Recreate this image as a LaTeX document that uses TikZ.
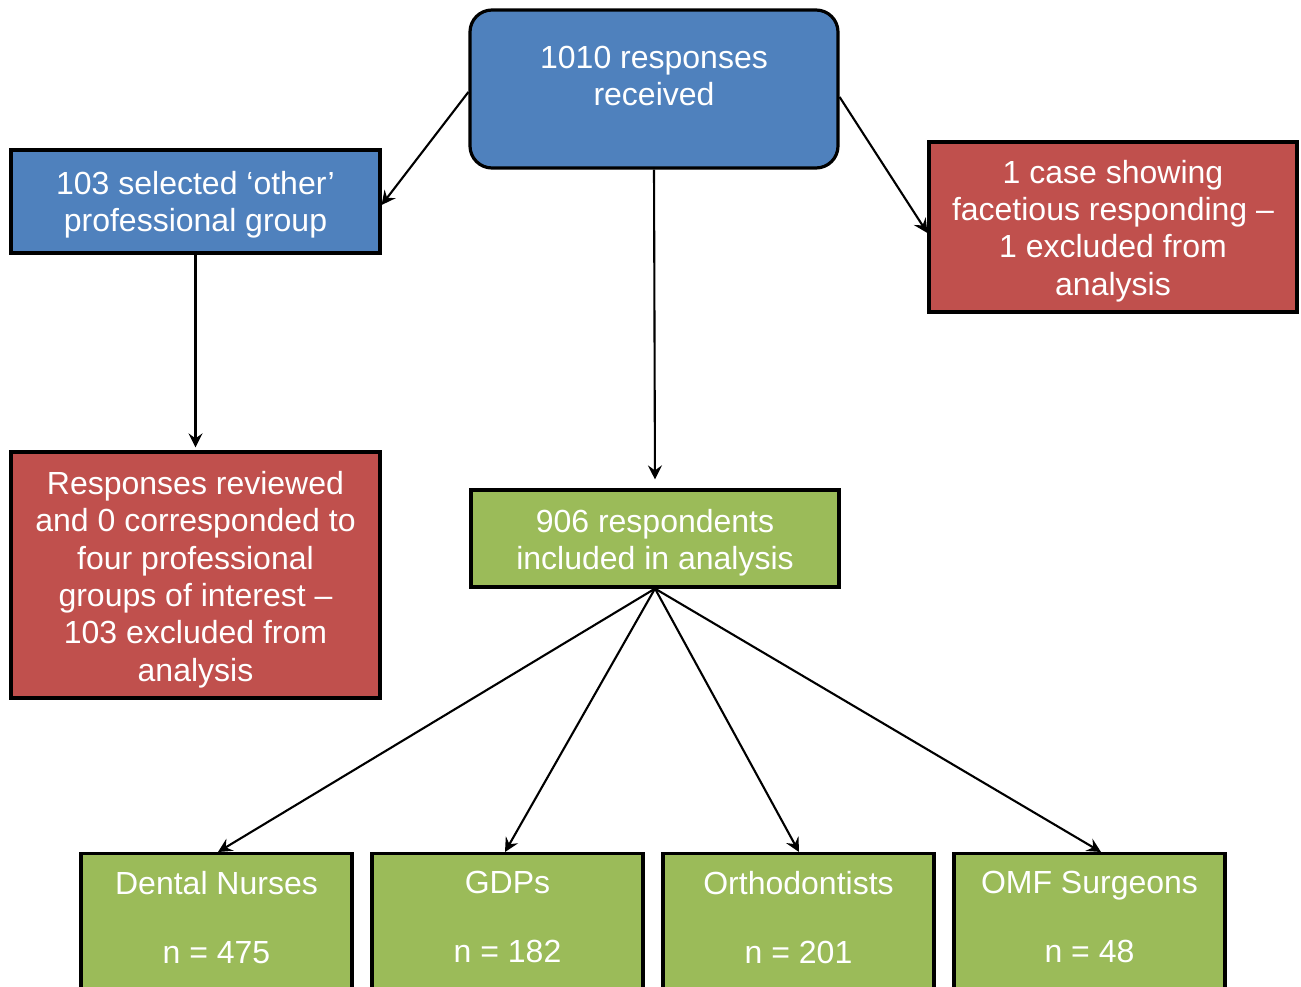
\documentclass[tikz,border=0pt]{standalone}
\usepackage{fontspec}
\setmainfont{Liberation Sans}
\usetikzlibrary{arrows.meta}
\definecolor{cblue}{HTML}{4F81BD}
\definecolor{cred}{HTML}{C0504D}
\definecolor{cgreen}{HTML}{9BBB59}
\begin{document}
\begin{tikzpicture}[x=1pt,y=-1pt,
  box/.style={draw=black,line width=3.2pt,inner sep=0pt},
  txt/.style={text=white,align=center,inner sep=0pt,font=\fontsize{32}{37.3}\selectfont},
  conn/.style={line width=2.1pt,-{Stealth[length=14pt,width=14pt,inset=5pt]}}]
\clip (0,0) rectangle (1301,987);
\fill[white] (0,0) rectangle (1301,987);
% boxes
\node[box,fill=cblue,rounded corners=22pt,minimum width=368,minimum height=158] (top) at (654,89) {};
\node[box,fill=cblue,minimum width=369,minimum height=103] (other) at (195.5,201.5) {};
\node[box,fill=cred,minimum width=368,minimum height=170] (face) at (1113,227) {};
\node[box,fill=cred,minimum width=369,minimum height=246] (rev) at (195.5,575) {};
\node[box,fill=cgreen,minimum width=368,minimum height=97] (incl) at (655,538.5) {};
\node[box,fill=cgreen,minimum width=271,minimum height=200,anchor=north] (dn) at (216.5,852) {};
\node[box,fill=cgreen,minimum width=271,minimum height=200,anchor=north] (gdp) at (507.5,852) {};
\node[box,fill=cgreen,minimum width=271,minimum height=200,anchor=north] (orth) at (798.5,852) {};
\node[box,fill=cgreen,minimum width=271,minimum height=200,anchor=north] (omf) at (1089.5,852) {};
% texts
\node[txt] (toptext) at ([yshift=13]top.center) {1010 responses\\received};
\node[txt] (othert) at ([yshift=-3.5]other.center) {103 selected ‘other’\\professional group};
\node[txt] (facet) at ([yshift=-4]face.center) {1 case showing\\facetious responding –\\1 excluded from\\analysis};
\node[txt] (revt) at ([yshift=-4.5]rev.center) {Responses reviewed\\and 0 corresponded to\\four professional\\groups of interest –\\103 excluded from\\analysis};
\node[txt] (inclt) at ([yshift=-4]incl.center) {906 respondents\\included in analysis};
\node[txt,anchor=north] (dnt) at ([yshift=-19]dn.north) {Dental Nurses\\[32pt]n = 475};
\node[txt,anchor=north] (gdpt) at ([yshift=-19]gdp.north) {GDPs\\[32pt]n = 182};
\node[txt,anchor=north] (ortht) at ([yshift=-19]orth.north) {Orthodontists\\[32pt]n = 201};
\node[txt,anchor=north] (omft) at ([yshift=-19]omf.north) {OMF Surgeons\\[32pt]n = 48};
% connectors
\draw[conn] ([yshift=-3]top.west) -- ([yshift=-3.5]other.east);
\draw[conn] ([yshift=-8]top.east) -- ([yshift=-6]face.west);
\draw[conn,shorten >=9pt] (top.south) -- (incl.north);
\draw[conn,shorten >=3pt] (other.south) -- (rev.north);
\draw[conn] (incl.south) -- ([xshift=1.5]dn.north);
\draw[conn] (incl.south) -- ([xshift=-2.5]gdp.north);
\draw[conn] (incl.south) -- ([xshift=0.5]orth.north);
\draw[conn] (incl.south) -- ([xshift=11.5]omf.north);
\end{tikzpicture}
\end{document}
